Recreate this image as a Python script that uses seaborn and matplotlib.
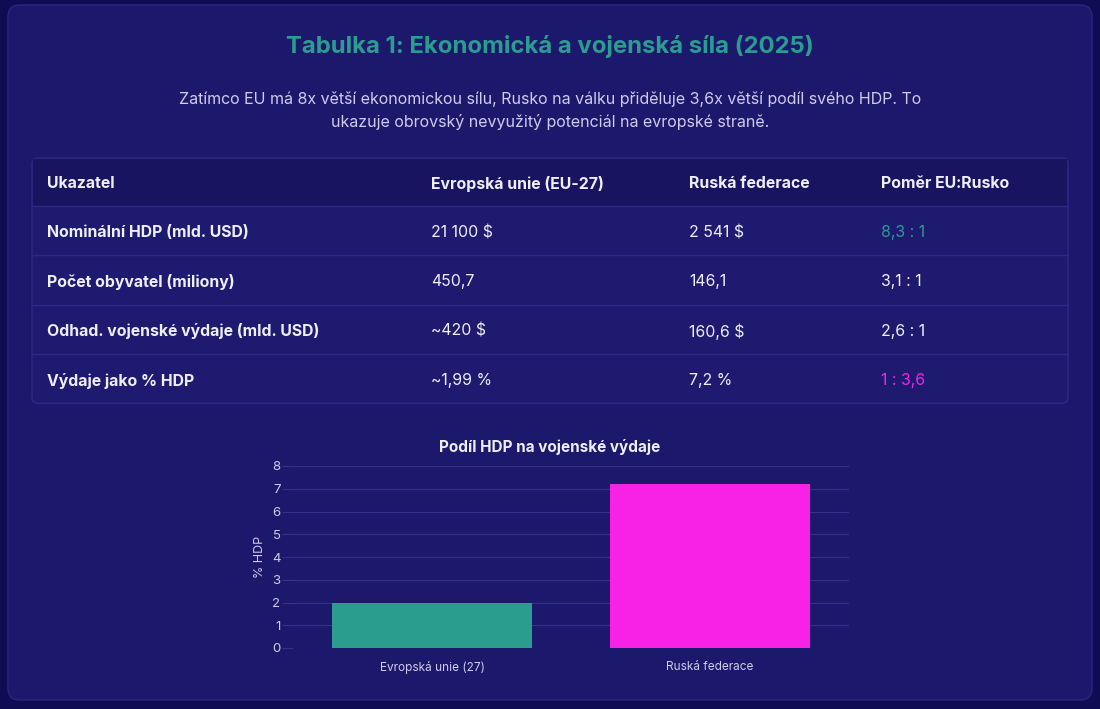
import matplotlib
matplotlib.use("Agg")
import matplotlib.pyplot as plt
from matplotlib.patches import FancyBboxPatch, Rectangle
import seaborn as sns
import pandas as pd

# ---------------- data ----------------
title = "Tabulka 1: Ekonomická a vojenská síla (2025)"
subtitle_lines = [
    "Zatímco EU má 8x větší ekonomickou sílu, Rusko na válku přiděluje 3,6x větší podíl svého HDP. To",
    "ukazuje obrovský nevyužitý potenciál na evropské straně.",
]
table_headers = ["Ukazatel", "Evropská unie (EU-27)", "Ruská federace", "Poměr EU:Rusko"]
indicators = ["Nominální HDP (mld. USD)", "Počet obyvatel (miliony)",
              "Odhad. vojenské výdaje (mld. USD)", "Výdaje jako % HDP"]
eu_values = ["21 100 $", "450,7", "~420 $", "~1,99 %"]
ru_values = ["2 541 $", "146,1", "160,6 $", "7,2 %"]
ratios = ["8,3 : 1", "3,1 : 1", "2,6 : 1", "1 : 3,6"]

chart_title = "Podíl HDP na vojenské výdaje"
chart_categories = ["Evropská unie (27)", "Ruská federace"]
chart_values = [1.99, 7.2]
y_label = "% HDP"
y_ticks = [0, 1, 2, 3, 4, 5, 6, 7, 8]

# ---------------- style ----------------
OUTER = "#100c53"
CARD = "#1c186c"
CARD_EDGE = "#2a2682"
HEAD_BG = "#19145f"
ROW_BG = "#1d1a70"
LINE = "#2d2a86"
TEAL = "#2a9d8f"
MAGENTA = "#f722e6"
TXT = "#eeeef8"
SUB = "#cfcdec"

sns.set_theme(style="dark")
plt.rcParams["font.family"] = ["Inter", "DejaVu Sans"]

W, H = 1100, 709
fig = plt.figure(figsize=(W / 100, H / 100), dpi=100, facecolor=OUTER)

# background axes in pixel coordinates
bg = fig.add_axes([0, 0, 1, 1])
bg.set_xlim(0, W)
bg.set_ylim(H, 0)
bg.axis("off")
bg.set_facecolor(OUTER)

bg.add_patch(FancyBboxPatch((8, 5), 1084, 695, boxstyle="round,pad=0,rounding_size=12",
                            facecolor=CARD, edgecolor=CARD_EDGE, linewidth=1))

bg.text(550, 46, title, ha="center", va="center", color=TEAL, fontsize=17.2, fontweight="bold")
bg.text(550, 99, subtitle_lines[0], ha="center", va="center", color=SUB, fontsize=11.5)
bg.text(550, 122, subtitle_lines[1], ha="center", va="center", color=SUB, fontsize=11.5)

# table
tx0, tx1 = 32, 1068
ty0 = 158
head_h = 48
row_h = 49.3
n = len(indicators)
ty1 = ty0 + head_h + row_h * n
bg.add_patch(FancyBboxPatch((tx0, ty0), tx1 - tx0, ty1 - ty0,
                            boxstyle="round,pad=0,rounding_size=6",
                            facecolor=ROW_BG, edgecolor=LINE, linewidth=1))
bg.add_patch(Rectangle((tx0 + 1, ty0 + 1), tx1 - tx0 - 2, head_h - 1, facecolor=HEAD_BG,
                       edgecolor="none"))
col_x = [47, 431, 689, 881]
FS = 11.4
for x, h in zip(col_x, table_headers):
    bg.text(x, ty0 + head_h / 2 + 2, h, ha="left", va="center", color=TXT, fontsize=FS,
            fontweight="bold")
for i in range(n):
    top = ty0 + head_h + row_h * i
    bg.plot([tx0, tx1], [top, top], color=LINE, linewidth=1)
    yc = top + row_h / 2 + 2
    bg.text(col_x[0], yc, indicators[i], ha="left", va="center", color=TXT, fontsize=FS,
            fontweight="bold")
    bg.text(col_x[1], yc, eu_values[i], ha="left", va="center", color=TXT, fontsize=FS)
    bg.text(col_x[2], yc, ru_values[i], ha="left", va="center", color=TXT, fontsize=FS)
    rc = TXT
    if i == 0:
        rc = TEAL
    elif i == n - 1:
        rc = MAGENTA
    bg.text(col_x[3], yc, ratios[i], ha="left", va="center", color=rc, fontsize=FS)

# bar chart
bg.text(550, 447, chart_title, ha="center", va="center", color=TXT, fontsize=11,
        fontweight="bold")
ax_l, ax_r = 293, 849
ax_t, ax_b = 466, 648
ax = fig.add_axes([ax_l / W, 1 - ax_b / H, (ax_r - ax_l) / W, (ax_b - ax_t) / H])
ax.set_facecolor("none")
df = pd.DataFrame({"cat": chart_categories, "val": chart_values})
sns.barplot(data=df, x="cat", y="val", hue="cat", palette=[TEAL, MAGENTA], width=0.72,
            saturation=1, legend=False, ax=ax, zorder=3, linewidth=0, edgecolor="none")
ax.set_xlim(-0.5, 1.5)
ax.set_ylim(0, 8)
ax.set_yticks(y_ticks)
ax.set_yticklabels([str(t) for t in y_ticks], color=SUB, fontsize=9.5)
ax.tick_params(axis="y", length=8, color="#35318e", width=0.8, pad=1, direction="out",
               left=True)
ax.tick_params(axis="x", length=0, pad=9.5, colors=SUB, labelsize=8.5)
ax.grid(axis="y", color="#35318e", linewidth=0.8, zorder=0)
ax.grid(axis="x", visible=False)
for s in ax.spines.values():
    s.set_visible(False)
ax.set_xlabel("")
ax.set_ylabel(y_label, color=SUB, fontsize=9, labelpad=4)

fig.savefig("out.png", dpi=100, facecolor=OUTER)
